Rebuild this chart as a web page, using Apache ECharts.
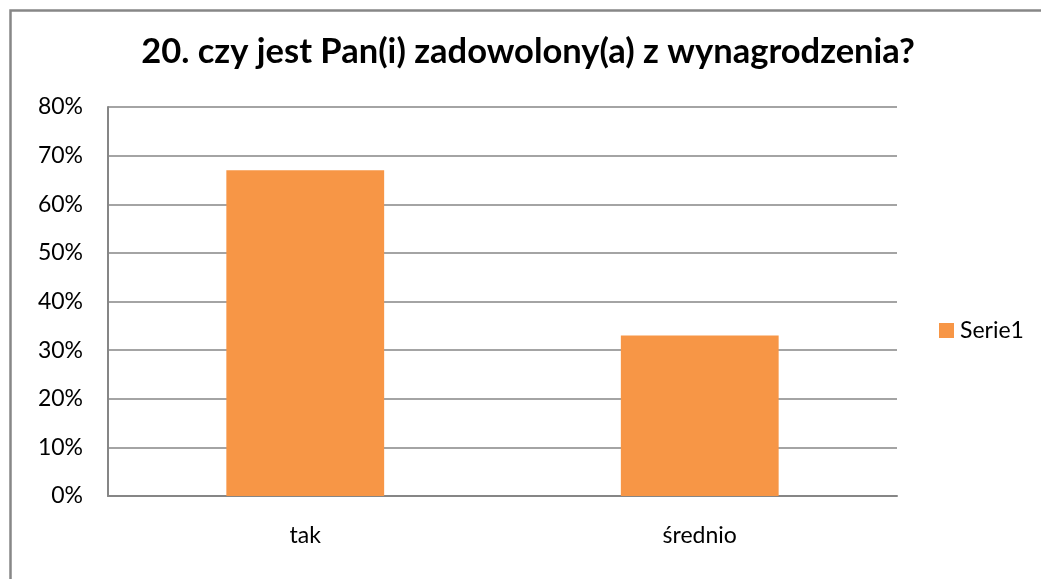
<!DOCTYPE html>
<html><head><meta charset="utf-8">
<script src="https://cdn.jsdelivr.net/npm/echarts@6/dist/echarts.min.js"></script>
<style>html,body{margin:0;padding:0;background:#fff}#c{width:1041px;height:579px}</style>
</head><body><div id="c"></div>
<script>
const titleText = '20. czy jest Pan(i) zadowolony(a) z wynagrodzenia?';
const categories = ['tak', 'średnio'];
const seriesName = 'Serie1';
const values = [67, 33];
const yTicks = [0, 10, 20, 30, 40, 50, 60, 70, 80];

const chart = echarts.init(document.getElementById('c'), null, {renderer: 'canvas'});
const font = 'Lato, Open Sans, sans-serif';
chart.setOption({
  animation: false,
  backgroundColor: '#fff',
  graphic: [{
    type: 'rect', left: 8, top: 8, z: -1,
    shape: {width: 1100, height: 650},
    style: {fill: 'none', stroke: '#878787', lineWidth: 2.5}
  }],
  title: {
    text: titleText, left: 528, top: 34, textAlign: 'center', padding: 0,
    textStyle: {fontFamily: font, fontWeight: 'bold', fontSize: 34.5, lineHeight: 36, color: '#000'}
  },
  legend: {
    data: [seriesName], left: 939, top: 318.5, orient: 'vertical', padding: 0,
    itemWidth: 15, itemHeight: 15, itemGap: 8,
    textStyle: {fontFamily: font, fontSize: 23, lineHeight: 24, color: '#000', padding: [0, 0, 0, 1]},
    icon: 'rect'
  },
  grid: {left: 108, right: 144, top: 107, bottom: 83, containLabel: false},
  xAxis: {
    type: 'category', data: categories,
    axisLine: {lineStyle: {color: '#868686', width: 2}},
    axisTick: {show: false},
    axisLabel: {fontFamily: font, fontSize: 23, color: '#000', margin: 28}
  },
  yAxis: {
    type: 'value', min: 0, max: 80, interval: 10,
    axisLine: {show: true, lineStyle: {color: '#868686', width: 2}},
    axisTick: {show: false},
    splitLine: {lineStyle: {color: '#868686', width: 1.5}},
    axisLabel: {fontFamily: font, fontSize: 23, color: '#000', margin: 25,
      formatter: v => yTicks.includes(v) ? v + '%' : ''}
  },
  series: [{
    name: seriesName, type: 'bar', data: values,
    barWidth: '40%',
    itemStyle: {color: '#F79646'}
  }]
});
</script></body></html>
